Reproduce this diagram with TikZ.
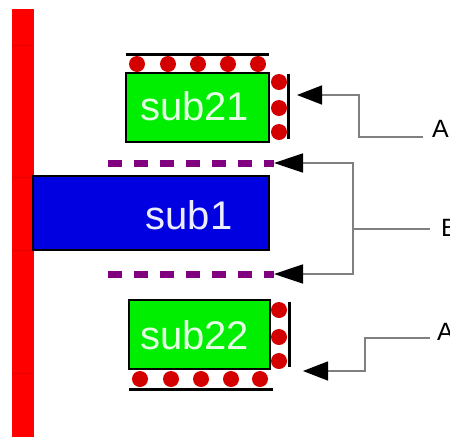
\documentclass[tikz,border=0pt]{standalone}
\usepackage{fontspec}
\setmainfont{Liberation Sans}
\usetikzlibrary{arrows.meta}
\definecolor{barred}{HTML}{FF0000}
\definecolor{barline}{HTML}{E60000}
\definecolor{boxgreen}{HTML}{00EE00}
\definecolor{boxblue}{HTML}{0000E0}
\definecolor{dotred}{HTML}{D40000}
\definecolor{dashpurple}{HTML}{800080}
\definecolor{conngrey}{HTML}{808080}
\definecolor{greentext}{HTML}{E2FFE2}
\definecolor{bluetext}{HTML}{ECECFF}
\begin{document}
\begin{tikzpicture}[x=1pt,y=-1pt,
  boxnode/.style={draw=black, line width=1.5pt, inner sep=0pt, outer sep=0pt},
  ball/.style={circle, fill=dotred, inner sep=0pt, minimum size=16pt},
  wall/.style={line width=3pt, black},
  subtext/.style={anchor=base, font=\fontsize{40}{40}\selectfont, inner sep=0pt},
  lbl/.style={anchor=base west, font=\fontsize{25}{25}\selectfont, inner sep=0pt},
  conn/.style={draw=conngrey, line width=1.5pt},
  tipA/.style={-{Triangle[length=25pt,width=19pt,black]}},
  tipB/.style={-{Triangle[length=29pt,width=19pt,black]}},
  dashline/.style={dashpurple, line width=7pt, dash pattern=on 14pt off 12pt},
]
\useasboundingbox[fill=white] (0,0) rectangle (450,437);

% red wall
\fill[barred] (12,9) rectangle (34,437);
\foreach \yy in {45,177,250,373} \draw[barline, line width=0.8pt] (12,\yy) -- (34,\yy);

% sub21
\node[boxnode, fill=boxgreen, minimum width=143pt, minimum height=69pt] (sub21) at (197.5,107.5) {};
\node[subtext, text=greentext] (t21) at (194.5,120) {sub21};
\draw[wall] (126,54) -- (269,54);
\foreach \xx in {137,168,198,228,258} \node[ball] at (\xx,64) {};
\foreach \yy in {82,108,132} \node[ball] at (279,\yy) {};
\draw[wall] (288,74) -- (288,139);

% sub1
\node[boxnode, fill=boxblue, minimum width=236pt, minimum height=74pt] (sub1) at (151,213) {};
\node[subtext, text=bluetext] (t1) at (189,229) {sub1};

% dashed lines
\coordinate (d1s) at (108,163);
\coordinate (d1e) at (274,163);
\coordinate (d2s) at (108,274);
\coordinate (d2e) at (274,274);
\draw[dashline] (d1s) -- (d1e);
\draw[dashline] (d2s) -- (d2e);

% sub22
\node[boxnode, fill=boxgreen, minimum width=141pt, minimum height=69pt] (sub22) at (199.5,334.5) {};
\node[subtext, text=greentext] (t22) at (194.5,349) {sub22};
\draw[wall] (129,389) -- (273,389);
\foreach \xx in {140,171,201,231,260} \node[ball] at (\xx,379) {};
\foreach \yy in {310,337,361} \node[ball] at (279,\yy) {};
\draw[wall] (289,302) -- (289,367);

% labels and connectors
\node[lbl] (labA1) at (432,137) {A};
\coordinate (tipA1) at (297,95);
\draw[conn,tipA] ([xshift=-9pt]labA1.base west) -- ++(-64,0) |- (tipA1);

\node[lbl] (labB) at (441,236) {B};
\coordinate (jB) at (353,229);
\draw[conn] ([xshift=-11pt,yshift=7pt]labB.base west) -- (jB);
\draw[conn,tipB] (jB) |- (d1e);
\draw[conn,tipB] (jB) |- (d2e);

\node[lbl] (labA2) at (437,340) {A};
\coordinate (tipA2) at (303,371);
\draw[conn,tipA] ([xshift=-7pt,yshift=2pt]labA2.base west) -- ++(-65,0) |- (tipA2);
\end{tikzpicture}
\end{document}
